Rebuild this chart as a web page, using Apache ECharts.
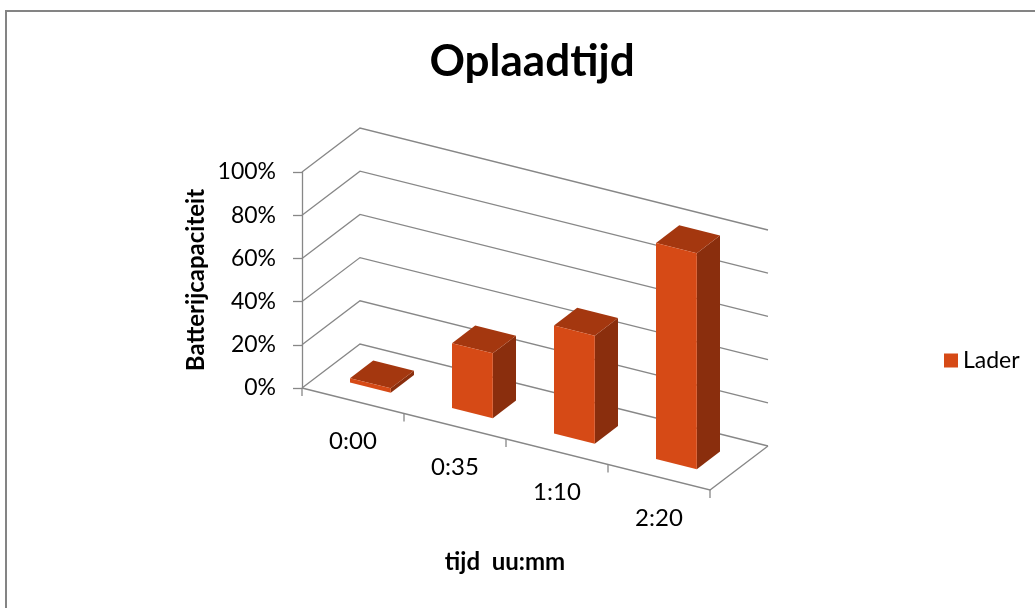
<!DOCTYPE html>
<html>
<head>
<meta charset="utf-8">
<script src="https://cdn.jsdelivr.net/npm/echarts@6/dist/echarts.min.js"></script>
<style>
  html, body { margin: 0; padding: 0; background: #fff; }
  #chart { width: 1035px; height: 608px; }
</style>
</head>
<body>
<div id="chart"></div>
<script>
// data
const categories = ['0:00', '0:35', '1:10', '2:20'];
const values = [2, 30, 50, 100];
const yTicks = [0, 20, 40, 60, 80, 100];

// 3d look (pixels)
const DEPTH_X = 58;
const DEPTH_Y = 44;
const SLOPE = 0.25;
const FONT = 'Lato, "Liberation Sans", sans-serif';

// category c (0..n), value v, depth d (0..1) -> screen point
function proj(api, c, v, d) {
  const p0 = api.coord([0, v]);
  const bw = api.size([1, 0])[0];
  const x = p0[0] - bw / 2 + c * bw + DEPTH_X * d;
  const y = p0[1] + c * bw * SLOPE - DEPTH_Y * d;
  return [x, y];
}

const gridStyle = { stroke: '#878787', lineWidth: 1.3, fill: null };

const chart = echarts.init(document.getElementById('chart'));

const option = {
  animation: false,
  backgroundColor: '#fff',
  graphic: [
    { type: 'rect', shape: { x: 6, y: 11, width: 1100, height: 700 },
      style: { stroke: '#848484', lineWidth: 2, fill: null }, silent: true },
    { type: 'text', x: 532, y: 62,
      style: { text: 'Oplaadtijd', font: 'bold 44px ' + FONT, fill: '#000',
               textAlign: 'center', textVerticalAlign: 'middle' } },
    { type: 'text', x: 505, y: 562,
      style: { text: 'tijd  uu:mm', font: 'bold 24px ' + FONT, fill: '#000',
               textAlign: 'center', textVerticalAlign: 'middle' } }
  ],
  legend: {
    left: 939, top: 344,
    itemWidth: 14, itemHeight: 14, itemGap: 8,
    icon: 'rect',
    textStyle: { fontSize: 23, fontFamily: FONT, color: '#000' },
    data: ['Lader']
  },
  grid: { left: 302, top: 172, width: 408, height: 216 },
  xAxis: {
    type: 'category',
    data: categories,
    show: false
  },
  yAxis: {
    type: 'value',
    min: 0, max: 100, interval: 20,
    name: 'Batterijcapaciteit',
    nameLocation: 'middle',
    nameGap: 94,
    nameTextStyle: { fontSize: 24, fontWeight: 'bold', fontFamily: FONT, color: '#000' },
    axisLine: { show: true, lineStyle: { color: '#878787', width: 1.3 } },
    axisTick: { show: true, length: 9, lineStyle: { color: '#878787', width: 1.3 } },
    splitLine: { show: false },
    axisLabel: { formatter: '{value}%', fontSize: 23, fontFamily: FONT, color: '#000', margin: 26 }
  },
  series: [
    {
      // walls and floor
      type: 'custom',
      silent: true,
      data: yTicks.map(v => [0, v]),
      encode: { x: 0, y: 1 },
      renderItem: function (params, api) {
        const v = api.value(1);
        const n = categories.length;
        const children = [{
          type: 'polyline',
          shape: { points: [proj(api, 0, v, 0), proj(api, 0, v, 1), proj(api, n, v, 1)] },
          style: gridStyle
        }];
        if (v === 0) {
          children.push({
            type: 'polyline',
            shape: { points: [proj(api, 0, 0, 0), proj(api, n, 0, 0), proj(api, n, 0, 1)] },
            style: gridStyle
          });
          for (let c = 0; c <= n; c++) {
            const p = proj(api, c, 0, 0);
            children.push({
              type: 'line',
              shape: { x1: p[0], y1: p[1], x2: p[0], y2: p[1] + 8 },
              style: { stroke: '#878787', lineWidth: 1.3 }
            });
          }
          for (let i = 0; i < n; i++) {
            const p = proj(api, i + 0.5, 0, 0);
            children.push({
              type: 'text',
              x: p[0], y: p[1] + 41,
              style: { text: categories[i], font: '24px ' + FONT, fill: '#000',
                       textAlign: 'center', textVerticalAlign: 'middle' }
            });
          }
        }
        return { type: 'group', children: children };
      },
      z: 1
    },
    {
      name: 'Lader',
      type: 'custom',
      data: values.map((v, i) => [i, v]),
      encode: { x: 0, y: 1 },
      itemStyle: { color: '#D64A16' },
      renderItem: function (params, api) {
        const i = api.value(0);
        const v = api.value(1);
        const c0 = i + 0.3, c1 = i + 0.7, d0 = 0.3, d1 = 0.7;
        const front = [proj(api, c0, 0, d0), proj(api, c1, 0, d0), proj(api, c1, v, d0), proj(api, c0, v, d0)];
        const side = [proj(api, c1, 0, d0), proj(api, c1, 0, d1), proj(api, c1, v, d1), proj(api, c1, v, d0)];
        const top = [proj(api, c0, v, d0), proj(api, c1, v, d0), proj(api, c1, v, d1), proj(api, c0, v, d1)];
        return {
          type: 'group',
          children: [
            { type: 'polygon', shape: { points: side }, style: { fill: '#8A2E0D' } },
            { type: 'polygon', shape: { points: top }, style: { fill: '#A4370F' } },
            { type: 'polygon', shape: { points: front }, style: { fill: '#D64A16' } }
          ]
        };
      },
      z: 2
    }
  ]
};

chart.setOption(option);
</script>
</body>
</html>
